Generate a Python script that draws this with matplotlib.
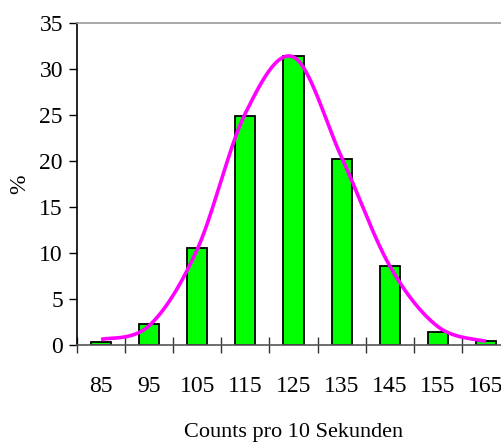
import numpy as np
import matplotlib
matplotlib.use("Agg")
import matplotlib.pyplot as plt
from matplotlib.ticker import FixedLocator, NullFormatter

# counts per 10 s (class centres) and share in %
classes = ["85", "95", "105", "115", "125", "135", "145", "155", "165"]
percent = [0.35, 2.3, 10.5, 24.9, 31.4, 20.2, 8.6, 1.45, 0.4]
# fitted normal curve at the class centres
fit = [0.6, 2.1, 10.4, 25.2, 31.3, 20.4, 8.6, 2.0, 0.4]


def smooth_line(xs, ys, n=30):
    # bezier smoothing through the points (like a spreadsheet "smoothed line")
    pts = np.column_stack([xs, ys]).astype(float)
    ext = np.vstack([pts[0], pts, pts[-1]])
    out = []
    for i in range(len(pts) - 1):
        p0, p1, p2, p3 = ext[i], ext[i + 1], ext[i + 2], ext[i + 3]
        c1 = p1 + (p2 - p0) / 6
        c2 = p2 - (p3 - p1) / 6
        t = np.linspace(0, 1, n)[:, None]
        seg = ((1 - t) ** 3) * p1 + 3 * ((1 - t) ** 2) * t * c1 \
            + 3 * (1 - t) * t ** 2 * c2 + t ** 3 * p2
        out.append(seg if i == 0 else seg[1:])
    out = np.vstack(out)
    return out[:, 0], out[:, 1]


def main():
    plt.rcParams["font.family"] = "Liberation Serif"

    fig = plt.figure(figsize=(5.02, 4.44), dpi=100)
    ax = fig.add_axes([77 / 502, 99 / 444, 433 / 502, 322 / 444])

    x = np.arange(len(classes))
    ax.bar(x, percent, width=0.42, color="#00ff00", edgecolor="black",
           linewidth=1.3, zorder=2)

    sx, sy = smooth_line(x, fit)
    ax.plot(sx, sy, color="#ff00ff", linewidth=2.6, zorder=3,
            solid_capstyle="butt")

    ax.set_xlim(-0.5, len(classes) - 0.5)
    ax.set_ylim(0, 35)
    ax.set_yticks(range(0, 36, 5))

    ax.set_xticks(x)
    ax.set_xticklabels(classes)
    ax.xaxis.set_minor_locator(FixedLocator(np.arange(-0.5, len(classes), 1)))
    ax.xaxis.set_minor_formatter(NullFormatter())
    ax.tick_params(axis="x", which="major", length=0, pad=22, labelsize=17)
    ax.tick_params(axis="x", which="minor", direction="inout", length=11.5,
                   width=1.0, color="#333333")
    ax.tick_params(axis="y", direction="out", length=5.8, width=1.0,
                   pad=4.3, labelsize=17)

    ax.spines["right"].set_visible(False)
    ax.spines["top"].set_color("#999999")
    ax.spines["top"].set_linewidth(1.2)
    ax.spines["bottom"].set_color("#555555")
    ax.spines["bottom"].set_linewidth(1.2)
    ax.spines["left"].set_linewidth(1.2)

    ax.set_ylabel("%", fontsize=17)
    ax.yaxis.set_label_coords(-0.108, 0.5)
    ax.set_xlabel("Counts pro 10 Sekunden", fontsize=16, va="baseline")
    ax.xaxis.set_label_coords(0.5, -0.287)

    fig.savefig("out.png", dpi=100)


if __name__ == "__main__":
    main()
